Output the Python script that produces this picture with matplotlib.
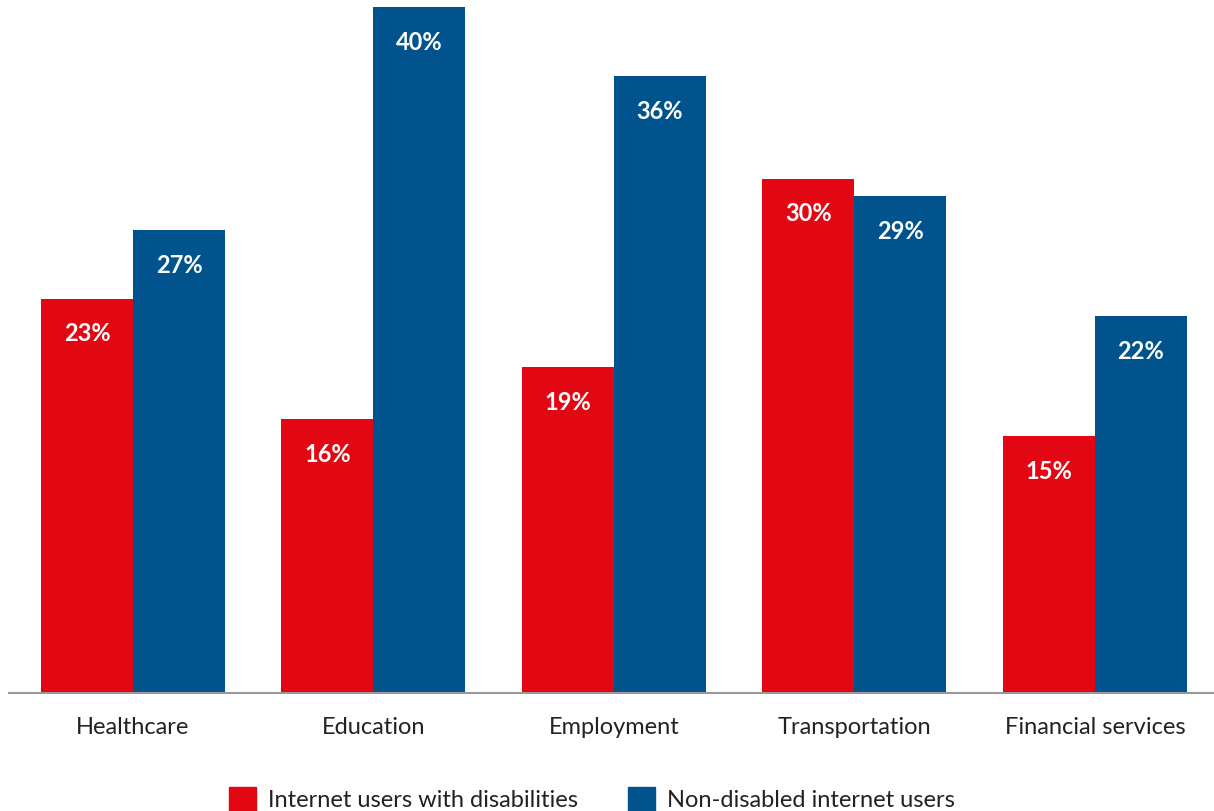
import matplotlib
matplotlib.use("Agg")
import matplotlib.pyplot as plt
import numpy as np
from matplotlib.patches import Patch

plt.rcParams['font.family'] = ['Lato', 'DejaVu Sans']

# Datos
categorias = ["Healthcare", "Education", "Employment", "Transportation", "Financial services"]
con_discapacidad = [23, 16, 19, 30, 15]
sin_discapacidad = [27, 40, 36, 29, 22]
series = ["Internet users with disabilities", "Non-disabled internet users"]

rojo = "#E30613"
azul = "#00538C"

fig = plt.figure(figsize=(12.14, 8.11), dpi=100)
ax = fig.add_axes([9 / 1214, 1 - 693 / 811, 1 - 9 / 1214, 693 / 811])

x = np.arange(len(categorias))
ancho = 0.3825

b1 = ax.bar(x - ancho / 2, con_discapacidad, ancho, color=rojo)
b2 = ax.bar(x + ancho / 2, sin_discapacidad, ancho, color=azul)

# Etiquetas dentro de las barras
for barras in (b1, b2):
    for b in barras:
        v = b.get_height()
        ax.annotate(f"{v:.0f}%", xy=(b.get_x() + b.get_width() / 2, v),
                    xytext=(0, -25.5), textcoords="offset points",
                    ha="center", va="center", color="white",
                    fontsize=17, fontweight="bold")

ax.set_xlim(-0.5156, 4.495)
ax.set_ylim(0, 40.41)
ax.set_xticks(x)
ax.set_xticklabels(categorias, fontsize=17, color="#222222")
ax.tick_params(axis="x", length=0, pad=17)
ax.set_yticks([])
for lado in ("top", "right", "left"):
    ax.spines[lado].set_visible(False)
ax.spines["bottom"].set_color("#999999")
ax.spines["bottom"].set_linewidth(1.5)

handles = [Patch(color=rojo), Patch(color=azul)]
fig.legend(handles, series, loc="center", bbox_to_anchor=(592 / 1214, 1 - 799 / 811),
           ncol=2, frameon=False, fontsize=17, handlelength=1.15, handleheight=1.15,
           handletextpad=0.5, columnspacing=2.1, labelcolor="#222222")

fig.savefig("out.png", dpi=100)
